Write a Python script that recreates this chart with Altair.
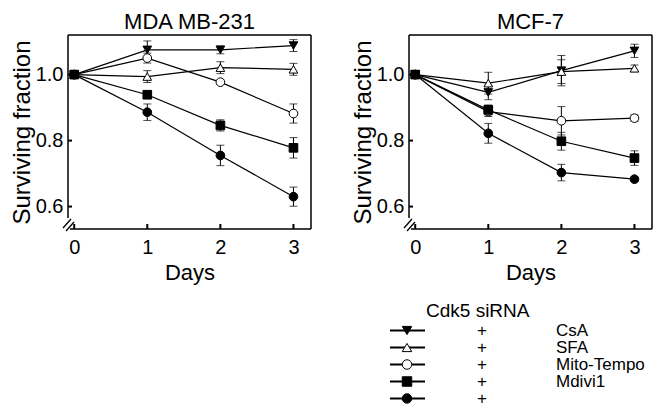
import altair as alt
import pandas as pd

FONT = "Liberation Sans"

days = [0, 1, 2, 3]
series = ["CsA", "SFA", "Mito-Tempo", "Mdivi1", "Control"]
legend_labels = ["CsA", "SFA", "Mito-Tempo", "Mdivi1", ""]
shapes = ["triangle-down", "triangle-up", "circle", "square", "circle"]
fills = ["black", "white", "white", "black", "black"]

# MDA MB-231
mda_values = {
    "CsA":        [1.0, 1.075, 1.075, 1.088],
    "SFA":        [1.0, 0.994, 1.021, 1.016],
    "Mito-Tempo": [1.0, 1.050, 0.977, 0.882],
    "Mdivi1":     [1.0, 0.939, 0.846, 0.778],
    "Control":    [1.0, 0.886, 0.755, 0.630],
}
mda_errors = {
    "CsA":        [0.004, 0.027, 0.012, 0.018],
    "SFA":        [0.004, 0.018, 0.018, 0.018],
    "Mito-Tempo": [0.004, 0.015, 0.006, 0.029],
    "Mdivi1":     [0.004, 0.010, 0.017, 0.031],
    "Control":    [0.004, 0.025, 0.031, 0.029],
}
# MCF-7
mcf_values = {
    "CsA":        [1.0, 0.946, 1.012, 1.072],
    "SFA":        [1.0, 0.974, 1.009, 1.019],
    "Mito-Tempo": [1.0, 0.888, 0.860, 0.868],
    "Mdivi1":     [1.0, 0.893, 0.798, 0.747],
    "Control":    [1.0, 0.822, 0.703, 0.683],
}
mcf_errors = {
    "CsA":        [0.004, 0.022, 0.046, 0.020],
    "SFA":        [0.004, 0.033, 0.036, 0.010],
    "Mito-Tempo": [0.004, 0.015, 0.043, 0.010],
    "Mdivi1":     [0.004, 0.015, 0.027, 0.022],
    "Control":    [0.004, 0.030, 0.025, 0.007],
}

y_ticks = [0.6, 0.8, 1.0]

W, H = 243, 194
X_DOMAIN = [-0.085, 3.24]
Y_DOMAIN = [0.532, 1.120]


def make_df(values, errors):
    rows = []
    for s in series:
        for d, v, e in zip(days, values[s], errors[s]):
            rows.append({"series": s, "day": d, "value": v, "lo": v - e, "hi": v + e})
    return pd.DataFrame(rows)


def panel(values, errors, title):
    df = make_df(values, errors)
    xs = alt.Scale(domain=X_DOMAIN, nice=False, zero=False)
    ys = alt.Scale(domain=Y_DOMAIN, nice=False, zero=False)
    x_axis = alt.Axis(values=days, format="d", title="Days", labelPadding=8,
                      titlePadding=5)
    y_axis = alt.Axis(values=y_ticks, format=".1f", title="Surviving fraction",
                      labelPadding=5, titlePadding=1, titleFontSize=24)

    def X(f="day"):
        return alt.X(f"{f}:Q", scale=xs, axis=x_axis)

    def Y(f="value"):
        return alt.Y(f"{f}:Q", scale=ys, axis=y_axis)

    base = alt.Chart(df)
    lines = base.mark_line(color="black", strokeWidth=1.2).encode(X(), Y(), detail="series:N")
    err = base.mark_rule(color="black", strokeWidth=1).encode(X(), Y("lo"), y2="hi:Q")
    cap_lo = base.mark_tick(color="black", orient="horizontal", size=8, thickness=1).encode(
        X(), Y("lo"))
    cap_hi = base.mark_tick(color="black", orient="horizontal", size=8, thickness=1).encode(
        X(), Y("hi"))
    pts = base.mark_point(filled=True, size=75, stroke="black", strokeWidth=1, opacity=1).encode(
        X(), Y(),
        shape=alt.Shape("series:N", scale=alt.Scale(domain=series, range=shapes), legend=None),
        fill=alt.Fill("series:N", scale=alt.Scale(domain=series, range=fills), legend=None),
    )
    ytick_df = pd.DataFrame({"value": y_ticks})
    xtick_df = pd.DataFrame({"day": days})
    yt = alt.Chart(ytick_df).mark_rule(color="black", strokeWidth=2).encode(
        Y(), x=alt.value(0), x2=alt.value(4))
    xt = alt.Chart(xtick_df).mark_rule(color="black", strokeWidth=2).encode(
        X(), y=alt.value(H), y2=alt.value(H - 5))
    one = alt.Data(values=[{"k": 1}])
    frame = [
        alt.Chart(one).mark_rule(color="black", strokeWidth=1.5).encode(
            x=alt.value(0), x2=alt.value(W), y=alt.value(0)),
        alt.Chart(one).mark_rule(color="black", strokeWidth=1.5).encode(
            x=alt.value(W), y=alt.value(0), y2=alt.value(H)),
        alt.Chart(one).mark_rule(color="black", strokeWidth=1.5).encode(
            x=alt.value(0), y=alt.value(0), y2=alt.value(H - 11)),
        alt.Chart(one).mark_rule(color="black", strokeWidth=1.5).encode(
            x=alt.value(2), x2=alt.value(W), y=alt.value(H)),
        alt.Chart(one).mark_rule(color="black", strokeWidth=1.3).encode(
            x=alt.value(-5), x2=alt.value(3), y=alt.value(H - 1), y2=alt.value(H - 10)),
        alt.Chart(one).mark_rule(color="black", strokeWidth=1.3).encode(
            x=alt.value(-2), x2=alt.value(6), y=alt.value(H + 2), y2=alt.value(H - 7)),
    ]
    return alt.layer(lines, err, cap_lo, cap_hi, pts, yt, xt, *frame).properties(
        width=W, height=H,
        title=alt.TitleParams(title, fontSize=22, font=FONT, fontWeight="normal",
                              color="black", offset=0, anchor="middle"),
    )


left = panel(mda_values, mda_errors, "MDA MB-231")
right = panel(mcf_values, mcf_errors, "MCF-7")

top = alt.hconcat(left, right, spacing=39)

# legend block (its origin lines up with the left plot's origin)
leg_df = pd.DataFrame({
    "series": series,
    "idx": list(range(len(series))),
    "label": legend_labels,
    "plus": ["+"] * len(series),
})
LW, LH = 583, 120
ly = alt.Y("idx:Q", scale=alt.Scale(domain=[0, 4], range=[47.5, 115.5]), axis=None)
lbase = alt.Chart(leg_df)
leg_lines = lbase.mark_rule(color="black", strokeWidth=1.8).encode(
    y=ly, x=alt.value(322), x2=alt.value(357))
leg_pts = lbase.mark_point(filled=True, size=90, stroke="black", strokeWidth=1, opacity=1).encode(
    y=ly, x=alt.value(339),
    shape=alt.Shape("series:N", scale=alt.Scale(domain=series, range=shapes), legend=None),
    fill=alt.Fill("series:N", scale=alt.Scale(domain=series, range=fills), legend=None),
)
leg_plus = lbase.mark_text(font=FONT, fontSize=17, color="black", align="center",
                           baseline="middle").encode(y=ly, x=alt.value(414), text="plus:N")
leg_text = lbase.mark_text(font=FONT, fontSize=17, color="black", align="left",
                           baseline="middle").encode(y=ly, x=alt.value(488), text="label:N")
one = alt.Data(values=[{"t": "Cdk5 siRNA"}])
leg_title = alt.Chart(one).mark_text(font=FONT, fontSize=19, color="black", align="left",
                                     baseline="middle").encode(
    x=alt.value(358), y=alt.value(27.5), text="t:N")
legend = alt.layer(leg_lines, leg_pts, leg_plus, leg_text, leg_title).properties(
    width=LW, height=LH)

chart = alt.vconcat(top, legend, spacing=0).properties(
    padding={"left": 2, "top": 3, "right": 0, "bottom": 0}
).configure(font=FONT).configure_view(stroke=None).configure_axis(
    grid=False, domain=False, ticks=False,
    labelFont=FONT, labelFontSize=20, labelColor="black",
    titleFont=FONT, titleFontSize=22, titleFontWeight="normal", titleColor="black",
)

chart.save("out.html", embed_options={"renderer": "svg", "actions": False})
